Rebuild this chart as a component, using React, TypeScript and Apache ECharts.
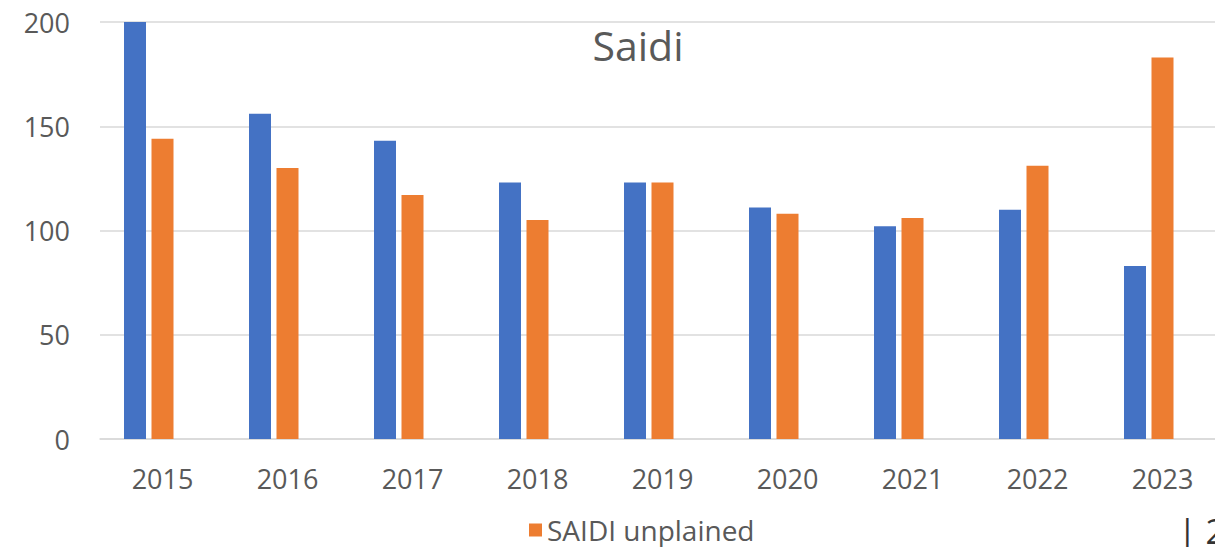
import React, { useEffect, useRef } from "react";
import * as echarts from "echarts";

const categories = ["2015", "2016", "2017", "2018", "2019", "2020", "2021", "2022", "2023"];
const saidiTotal = [200, 156, 143, 123, 123, 111, 102, 110, 83];
const saidiUnplained = [144, 130, 117, 105, 123, 108, 106, 131, 183];
const saidiHidden: number[] = [];
const yTicks = { min: 0, max: 200, interval: 50 };

export default function App() {
  const ref = useRef<HTMLDivElement>(null);
  useEffect(() => {
    if (!ref.current) return;
    const chart = echarts.init(ref.current, undefined, { renderer: "svg" });
    const font = "'Open Sans', sans-serif";
    chart.setOption({
      animation: false,
      backgroundColor: "#ffffff",
      title: {
        text: "Saidi",
        left: 633,
        top: 19,
        textAlign: "center",
        textStyle: { fontFamily: font, fontSize: 41, fontWeight: "normal", color: "#595959" },
      },
      legend: {
        data: ["SAIDI unplained"],
        left: 524,
        top: 511,
        itemWidth: 13,
        itemHeight: 13,
        itemGap: 10,
        icon: "rect",
        textStyle: { fontFamily: font, fontSize: 28, color: "#595959" },
      },
      grid: { left: 100, top: 22, width: 1125, height: 417, containLabel: false },
      xAxis: {
        type: "category",
        data: categories,
        axisLine: { lineStyle: { color: "#d9d9d9", width: 1.5 } },
        axisTick: { show: false },
        axisLabel: { fontFamily: font, fontSize: 27, color: "#595959", margin: 26 },
      },
      yAxis: {
        type: "value",
        min: yTicks.min,
        max: yTicks.max,
        interval: yTicks.interval,
        axisLine: { show: false },
        axisTick: { show: false },
        splitLine: { lineStyle: { color: "#d9d9d9", width: 1.5 } },
        axisLabel: { fontFamily: font, fontSize: 27, color: "#595959", margin: 30 },
      },
      series: [
        {
          name: "SAIDI",
          type: "bar",
          data: saidiTotal,
          barWidth: 22,
          barGap: "25%",
          itemStyle: { color: "#4472C4" },
        },
        {
          name: "SAIDI unplained",
          type: "bar",
          data: saidiUnplained,
          barWidth: 22,
          barGap: "25%",
          itemStyle: { color: "#ED7D31" },
        },
        {
          name: "SAIDI other",
          type: "bar",
          data: saidiHidden,
          barWidth: 22,
          barGap: "25%",
          itemStyle: { color: "#A5A5A5" },
        },
      ],
      graphic: [
        {
          type: "text",
          left: 1178,
          top: 514,
          style: { text: "| 2", fontFamily: font, fontSize: 34, fill: "#333333" },
        },
      ],
    });
    return () => chart.dispose();
  }, []);
  return (
    <div style={{ position: "fixed", left: 0, top: 0, width: 1215, height: 547, overflow: "hidden" }}>
      <div ref={ref} style={{ width: 1240, height: 547 }} />
    </div>
  );
}
